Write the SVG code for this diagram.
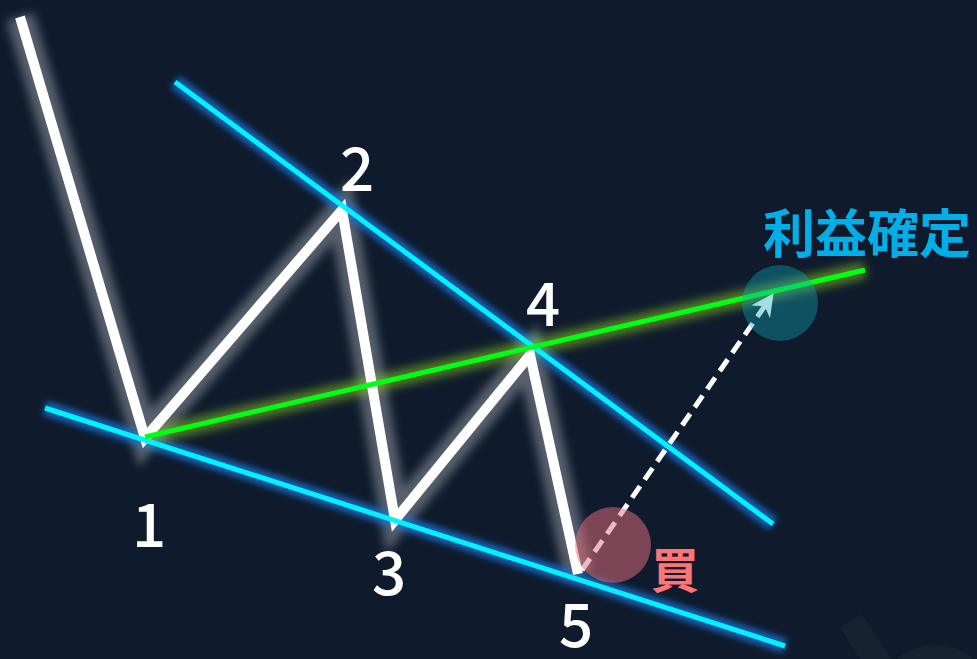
<svg xmlns="http://www.w3.org/2000/svg" width="977" height="659" viewBox="0 0 977 659">
<defs>
<filter id="blur" x="-20%" y="-20%" width="140%" height="140%"><feGaussianBlur stdDeviation="5"/></filter>
<filter id="blur2" x="-20%" y="-20%" width="140%" height="140%"><feGaussianBlur stdDeviation="3"/></filter>
<marker id="ah" viewBox="0 0 10 10" refX="8" refY="5" markerWidth="4.5" markerHeight="4.5" orient="auto" markerUnits="strokeWidth"><path d="M0,0 L10,5 L0,10 L3,5 Z" fill="#ffffff"/></marker>
<style>
.num{font-family:"Noto Sans CJK JP","Noto Sans",sans-serif;font-size:60px;font-weight:500;fill:#ffffff;text-anchor:middle}
.cyan{fill:none;stroke:#00f2ff;stroke-width:5;stroke-linecap:butt}
.cyanglow{fill:none;stroke:#1c74d8;stroke-width:14;opacity:0.8}
.green{fill:none;stroke:#00ff14;stroke-width:5}
.greenglow{fill:none;stroke:#8fcf20;stroke-width:16;opacity:0.55}
.white{fill:none;stroke:#ffffff;stroke-width:10;stroke-linejoin:miter;stroke-miterlimit:10}
.whiteglow{fill:none;stroke:#ffffff;stroke-width:28;opacity:0.3;stroke-linejoin:miter}
</style>
</defs>
<rect width="977" height="659" fill="#0f1b2d"/>
<g id="watermark" fill="#162132">
<rect x="840" y="628" width="26" height="80" transform="rotate(-33 840 628)"/>
<circle cx="935" cy="705" r="60"/>
</g>
<g id="connectors">
<g id="glows">
<polyline class="whiteglow" filter="url(#blur)" points="20,17 145,438 342,210 395,520 530,355 578,574"/>
<line class="cyanglow" filter="url(#blur2)" x1="175" y1="82" x2="773" y2="524"/>
<line class="cyanglow" filter="url(#blur2)" x1="45" y1="408" x2="785" y2="646"/>
<line class="greenglow" filter="url(#blur)" x1="145" y1="437" x2="865" y2="270"/>
</g>
<polyline id="price" class="white" points="20,17 145,438 342,210 395,520 530,355 578,574"/>
<line id="upper" class="cyan" x1="175" y1="82" x2="773" y2="524"/>
<line id="lower" class="cyan" x1="45" y1="408" x2="785" y2="646"/>
<line id="neck" class="green" x1="145" y1="437" x2="865" y2="270"/>
<line id="arrow" x1="582" y1="570" x2="771" y2="297" stroke="#ffffff" stroke-width="5" stroke-dasharray="14 8" marker-end="url(#ah)"/>
</g>
<g id="buy">
<circle cx="613" cy="545" r="38" fill="#e8707e" opacity="0.5"/>
<text x="675" y="588" font-family="Noto Sans CJK JP,sans-serif" font-size="48" font-weight="700" fill="#ff7575" text-anchor="middle">買</text>
</g>
<g id="target">
<circle cx="780" cy="303" r="38" fill="#10a8b8" opacity="0.38"/>
<text x="867" y="253" font-family="Noto Sans CJK JP,sans-serif" font-size="52" font-weight="700" fill="#00aee8" text-anchor="middle">利益確定</text>
</g>
<g id="labels">
<text class="num" x="149" y="547">1</text>
<text class="num" x="357" y="191">2</text>
<text class="num" x="389" y="595">3</text>
<text class="num" x="543" y="326">4</text>
<text class="num" x="576" y="647">5</text>
</g>
</svg>
